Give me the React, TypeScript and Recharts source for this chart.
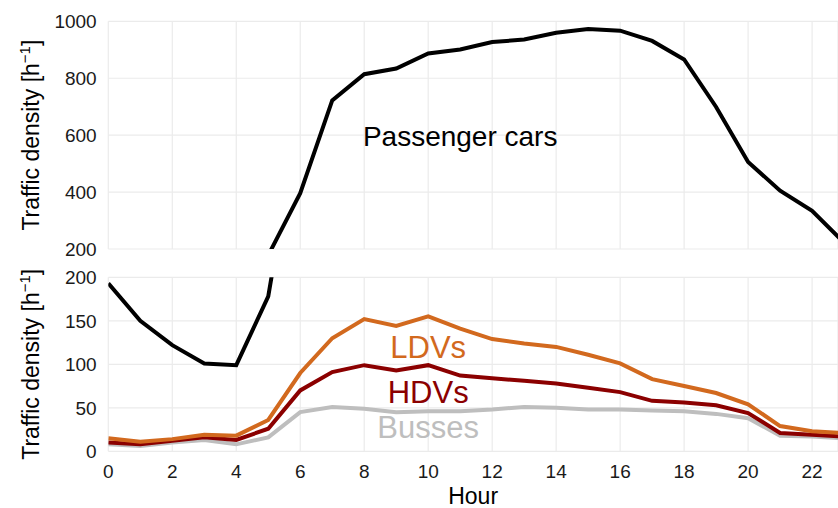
import { LineChart, Line, XAxis, YAxis, CartesianGrid, ReferenceDot } from 'recharts';

const hours = [0, 1, 2, 3, 4, 5, 6, 7, 8, 9, 10, 11, 12, 13, 14, 15, 16, 17, 18, 19, 20, 21, 22, 23];
const passengerCars = [193, 150, 122, 101, 99, 178, 396, 722, 814, 834, 887, 901, 927, 936, 960, 973, 967, 931, 866, 699, 506, 405, 334, 222];
const ldvs = [15, 11, 14, 19, 18, 36, 90, 130, 152, 144, 155, 141, 129, 124, 120, 111, 101, 83, 75, 67, 54, 29, 23, 21];
const hdvs = [10, 8, 12, 16, 13, 26, 70, 91, 99, 93, 99, 87, 84, 81, 78, 73, 68, 58, 56, 53, 44, 21, 19, 17];
const busses = [8, 6, 10, 13, 8, 16, 45, 51, 49, 45, 46, 46, 48, 51, 50, 48, 48, 47, 46, 43, 38, 18, 17, 15];

const hourTicks = [0, 2, 4, 6, 8, 10, 12, 14, 16, 18, 20, 22];
const topTicks = [200, 400, 600, 800, 1000];
const bottomTicks = [0, 50, 100, 150, 200];

const data = hours.map((h, i) => ({
  hour: h,
  cars: passengerCars[i],
  ldv: ldvs[i],
  hdv: hdvs[i],
  bus: busses[i],
}));

const FONT = '"Liberation Sans", Arial, sans-serif';
const GRID = '#EBEBEB';
const tickStyle = { fontSize: 19, fill: '#1a1a1a', fontFamily: FONT };

// rotated y title with a superscript -1
const YTitle = (props: any) => {
  const vb = props.viewBox || {};
  const cx = 39.3;
  const cy = vb.y + vb.height / 2;
  return (
    <text
      x={cx}
      y={cy}
      transform={`rotate(-90, ${cx}, ${cy})`}
      textAnchor="middle"
      fontSize={23}
      fontFamily={FONT}
      fill="#000"
    >
      Traffic density [h
      <tspan dy={-9} fontSize={15}>−1</tspan>
      <tspan dy={9}>]</tspan>
    </text>
  );
};

const xDomain = [0, 22.81];

export default function App() {
  return (
    <div style={{ position: 'absolute', left: 0, top: 0, width: 838, height: 508, overflow: 'hidden', fontFamily: FONT }}>
      <LineChart
        width={838}
        height={258}
        data={data}
        margin={{ top: 21.3, right: 0, left: 0, bottom: 9 }}
        style={{ overflow: 'visible', position: 'relative', zIndex: 1 }}
      >
        <CartesianGrid stroke={GRID} strokeWidth={1.2} />
        <XAxis dataKey="hour" type="number" domain={xDomain} allowDataOverflow ticks={hourTicks} hide />
        <YAxis
          type="number"
          domain={[200, 1000]}
          allowDataOverflow
          ticks={topTicks}
          interval={0}
          width={108.3}
          axisLine={false}
          tickLine={false}
          tickSize={6}
          tickMargin={5.6}
          tick={tickStyle}
          label={{ content: (p: any) => <YTitle {...p} /> }}
        />
        <Line dataKey="cars" stroke="#000" strokeWidth={4} dot={false} isAnimationActive={false} />
        <ReferenceDot
          x={11}
          y={598}
          r={0}
          fill="none"
          stroke="none"
          label={{ value: 'Passenger cars', position: 'center', fontSize: 28, fill: '#000', fontFamily: FONT }}
        />
      </LineChart>
      <LineChart width={838} height={250} data={data} margin={{ top: 19.3, right: 0, left: 0, bottom: 0 }}>
        <CartesianGrid stroke={GRID} strokeWidth={1.2} />
        <XAxis
          dataKey="hour"
          type="number"
          domain={xDomain}
          allowDataOverflow
          ticks={hourTicks}
          interval={0}
          height={56.7}
          axisLine={false}
          tickLine={false}
          tickSize={6}
          tickMargin={7.7}
          tick={tickStyle}
          label={{ value: 'Hour', position: 'insideBottom', offset: 4, fontSize: 23, fill: '#000', fontFamily: FONT }}
        />
        <YAxis
          type="number"
          domain={[0, 200]}
          allowDataOverflow
          ticks={bottomTicks}
          interval={0}
          width={108.3}
          axisLine={false}
          tickLine={false}
          tickSize={6}
          tickMargin={5.6}
          tick={tickStyle}
          label={{ content: (p: any) => <YTitle {...p} /> }}
        />
        <Line dataKey="bus" stroke="#BEBEBE" strokeWidth={4} dot={false} isAnimationActive={false} />
        <Line dataKey="hdv" stroke="#8B0000" strokeWidth={4} dot={false} isAnimationActive={false} />
        <Line dataKey="ldv" stroke="#D2691E" strokeWidth={4} dot={false} isAnimationActive={false} />
        <Line dataKey="cars" stroke="#000" strokeWidth={4} dot={false} isAnimationActive={false} />
        <ReferenceDot x={10} y={120} r={0} fill="none" stroke="none"
          label={{ value: 'LDVs', position: 'center', fontSize: 31, fill: '#D2691E', fontFamily: FONT }} />
        <ReferenceDot x={10} y={68} r={0} fill="none" stroke="none"
          label={{ value: 'HDVs', position: 'center', fontSize: 31, fill: '#8B0000', fontFamily: FONT }} />
        <ReferenceDot x={10} y={28} r={0} fill="none" stroke="none"
          label={{ value: 'Busses', position: 'center', fontSize: 31, fill: '#BEBEBE', fontFamily: FONT }} />
      </LineChart>
    </div>
  );
}
